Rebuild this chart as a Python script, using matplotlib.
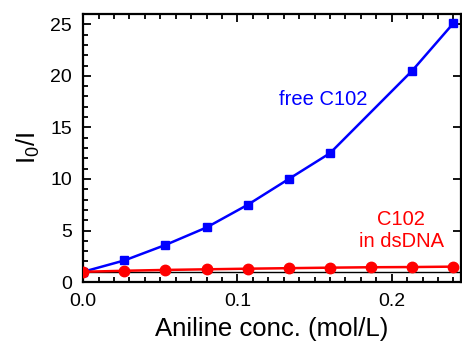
import numpy as np
import matplotlib
matplotlib.use('Agg')
import matplotlib.pyplot as plt
from matplotlib.ticker import MultipleLocator

plt.rcParams['font.family'] = ['Liberation Sans', 'DejaVu Sans']
plt.rcParams['mathtext.fontset'] = 'custom'
plt.rcParams['mathtext.rm'] = 'Liberation Sans'
plt.rcParams['mathtext.it'] = 'Liberation Sans'

# Data
conc_free = [0.0, 0.0267, 0.0533, 0.08, 0.1067, 0.1333, 0.16, 0.2133, 0.24]
ratio_free = [1.0, 2.1, 3.6, 5.3, 7.5, 10.0, 12.5, 20.5, 25.1]

conc_dna = [0.0, 0.0267, 0.0533, 0.08, 0.1067, 0.1333, 0.16, 0.1867, 0.2133, 0.24]
ratio_dna = [1.0, 1.1, 1.18, 1.24, 1.3, 1.35, 1.4, 1.44, 1.46, 1.5]

ref_x = [0.0, 0.245]
ref_y = [1.0, 1.0]

fig = plt.figure(figsize=(4.62, 3.5), dpi=100)
ax = fig.add_axes([0.180, 0.194, 0.818, 0.766])

ax.plot(ref_x, ref_y, color='black', linewidth=1.0, zorder=2)
ax.plot(conc_free, ratio_free, color='#0000ff', linewidth=1.8, marker='s',
        markersize=6, zorder=3)
ax.plot(conc_dna, ratio_dna, color='#ff0000', linewidth=1.8, marker='o',
        markersize=7.5, zorder=4)

ax.text(0.1559, 17.7, 'free C102', color='#0000ff', fontsize=14.5,
        ha='center', va='center')
ax.text(0.2062, 5.0, 'C102\nin dsDNA', color='#ff0000', fontsize=14.5,
        ha='center', va='center', linespacing=1.25)

ax.set_xlim(0, 0.245)
ax.set_ylim(0, 26)

ax.xaxis.set_major_locator(MultipleLocator(0.1))
ax.xaxis.set_minor_locator(MultipleLocator(0.01))
ax.yaxis.set_major_locator(MultipleLocator(5))
ax.yaxis.set_minor_locator(MultipleLocator(1))
ax.xaxis.set_major_formatter(plt.FuncFormatter(lambda v, p: f'{v:.1f}'))

ax.tick_params(which='both', direction='in', top=True, right=True,
               labelsize=14, width=1.3)
ax.tick_params(which='major', length=6, pad=8)
ax.tick_params(which='minor', length=3.5)
ax.tick_params(axis='y', which='minor', right=False)

for s in ax.spines.values():
    s.set_linewidth(1.6)

ax.set_xlabel('Aniline conc. (mol/L)', fontsize=18.5, labelpad=5)
ax.set_ylabel(r'I$_0$/I', fontsize=18.5, labelpad=6)

fig.savefig('out.png', dpi=100, facecolor='white')
